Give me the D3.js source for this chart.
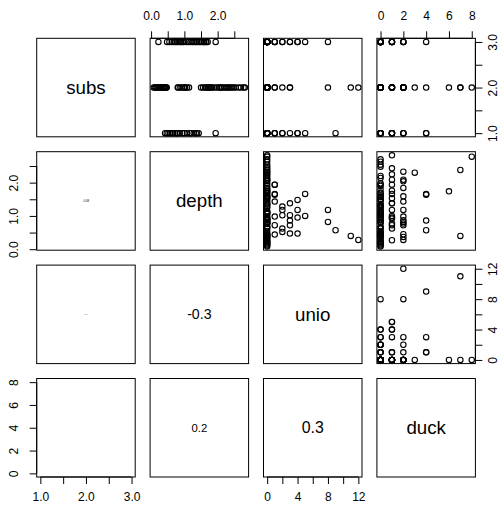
<!DOCTYPE html>
<html>
<head>
<meta charset="utf-8">
<script src="https://cdn.jsdelivr.net/npm/d3@7"></script>
<style>
  body { margin: 0; background: #fff; }
  text { font-family: "Liberation Sans", Arial, sans-serif; }
</style>
</head>
<body>
<svg width="500" height="507"></svg>
<script>
// variables of the pairs plot (one entry per observation)
var names = ["subs", "depth", "unio", "duck"];

var subs = [
  2, 2, 2, 2, 2, 1, 3, 2, 1, 2,
  3, 2, 2, 2, 3, 1, 1, 3, 1, 2,
  3, 1, 2, 3, 1, 3, 2, 3, 2, 3,
  1, 3, 1, 3, 1,
  2, 2, 2, 2, 3, 2, 3, 1, 2, 1,
  2, 2, 2, 2, 3, 2, 3, 1, 2, 2,
  2, 2, 2, 2, 2, 2, 2, 2, 2, 2,
  2, 2, 2, 2,
  2, 2, 2, 2, 2, 2, 2, 2, 2, 2, 2, 2,
  3, 3, 3, 3, 3, 3, 3, 3, 3, 3, 3, 3, 3,
  1, 1, 1, 1, 1, 1, 1
];
var depth = [
  2.78, 2.38, 0.40, 1.74, 2.30, 0.57, 1.64, 1.66, 0.86, 0.28,
  1.18, 0.82, 2.82, 2.63, 1.94, 1.94, 1.43, 0.98, 0.72, 0.44,
  1.28, 1.18, 1.02, 0.62, 0.52, 1.38, 1.02, 0.72, 0.47, 1.48,
  1.18, 0.95, 0.47, 1.66, 1.00,
  2.43, 2.25, 2.09, 1.76, 1.53, 0.92, 0.77, 0.62, 0.27, 1.38,
  2.33, 2.09, 2.04, 1.84, 1.59, 0.98, 0.87, 0.77, 0.45, 0.37,
  0.08, 0.11, 0.14, 0.17, 0.20, 0.23, 0.31, 0.34, 0.38, 0.42,
  0.80, 0.88, 1.08, 1.14,
  1.50, 1.56, 1.62, 1.70, 1.80, 1.90, 1.98, 2.14, 2.20, 2.48, 2.54, 2.70,
  0.22, 0.48, 0.55, 0.68, 0.82, 0.90, 1.06, 1.12, 1.24, 1.34, 1.44, 1.58, 1.70,
  0.42, 0.66, 0.80, 0.94, 1.08, 1.28, 1.34
];
var unio = [
  0, 0, 11, 0, 0, 9, 1, 1, 3, 12,
  8, 8, 0, 0, 1, 1, 1, 1, 1, 1,
  2, 2, 2, 2, 2, 3, 3, 3, 3, 4,
  4, 4, 4, 5, 5,
  0, 0, 0, 0, 0, 0, 0, 0, 0, 0,
  0, 0, 0, 0, 0, 0, 0, 0, 0, 0,
  0, 0, 0, 0, 0, 0, 0, 0, 0, 0,
  0, 0, 0, 0,
  0, 0, 0, 0, 0, 0, 0, 0, 0, 0, 0, 0,
  0, 0, 0, 0, 0, 0, 0, 0, 0, 0, 0, 0, 0,
  0, 0, 0, 0, 0, 0, 0
];
var duck = [
  8, 7, 7, 6, 3, 4, 4, 4, 4, 2,
  0, 2, 1, 0, 0, 1, 2, 0, 1, 0,
  0, 2, 0, 0, 0, 1, 0, 2, 0, 0,
  1, 1, 0, 1, 1,
  1, 1, 1, 1, 1, 1, 1, 1, 1, 1,
  2, 2, 2, 2, 2, 2, 2, 2, 2, 2,
  0, 0, 0, 0, 0, 0, 0, 0, 0, 0,
  0, 0, 0, 0,
  0, 0, 0, 0, 0, 0, 0, 0, 0, 0, 0, 0,
  0, 0, 0, 0, 0, 0, 0, 0, 0, 0, 0, 0, 0,
  0, 0, 0, 0, 0, 0, 0
];

// correlations shown in the lower panels (row, col, value, label)
var corRows   = [1, 2, 3, 2, 3, 3];
var corCols   = [0, 0, 0, 1, 1, 2];
var corValues = [-0.08, -0.04, 0.01, -0.31, 0.20, 0.28];
var corLabels = ["-0.08", "-0.04", "0.01", "-0.3", "0.2", "0.3"];

// ticks and their labels
var subsTicks  = [1, 1.5, 2, 2.5, 3];
var subsLabels = ["1.0", "", "2.0", "", "3.0"];
var depthTicks  = [0, 0.5, 1, 1.5, 2, 2.5];
var depthLabels = ["0.0", "", "1.0", "", "2.0", ""];
var unioTicks  = [0, 2, 4, 6, 8, 10, 12];
var unioLabels = ["0", "", "4", "", "8", "", "12"];
var duckTicks  = [0, 2, 4, 6, 8];
var duckLabels = ["0", "2", "4", "6", "8"];

var vars = [subs, depth, unio, duck];
var ticks = [subsTicks, depthTicks, unioTicks, duckTicks];
var tickLabels = [subsLabels, depthLabels, unioLabels, duckLabels];

var svg = d3.select("svg");
var left = 36.7, top0 = 38.3, step = 113.4, size = 98.5;

// R style range: data extent stretched by 4%
function extRange(v) {
  var e = d3.extent(v), pad = (e[1] - e[0]) * 0.04;
  return [e[0] - pad, e[1] + pad];
}
var xs = vars.map(function(v, j) {
  return d3.scaleLinear().domain(extRange(v)).range([left + j * step, left + j * step + size]);
});
var ys = vars.map(function(v, i) {
  return d3.scaleLinear().domain(extRange(v)).range([top0 + i * step + size, top0 + i * step]);
});

for (var i = 0; i < 4; i++) {
  for (var j = 0; j < 4; j++) {
    var x0 = left + j * step, y0 = top0 + i * step;
    var g = svg.append("g");
    if (i == j) {
      g.append("text")
        .attr("x", x0 + size / 2).attr("y", y0 + size / 2)
        .attr("dy", "0.35em")
        .attr("text-anchor", "middle")
        .attr("font-size", 18.7)
        .text(names[i]);
    } else if (j > i) {
      // upper panel: x = variable j, y = variable i
      var xv = vars[j], yv = vars[i], sx = xs[j], sy = ys[i];
      g.selectAll("circle")
        .data(d3.range(xv.length))
        .enter().append("circle")
        .attr("cx", function(k) { return sx(xv[k]); })
        .attr("cy", function(k) { return sy(yv[k]); })
        .attr("r", 2.7)
        .attr("fill", "none")
        .attr("stroke", "#000")
        .attr("stroke-width", 1.1);
    }
    g.append("rect")
      .attr("x", x0).attr("y", y0)
      .attr("width", size).attr("height", size)
      .attr("fill", "none").attr("stroke", "#000").attr("stroke-width", 1);
  }
}

// lower panels: correlation text, width = 0.8 * |r| of the panel
corValues.forEach(function(r, k) {
  var x0 = left + corCols[k] * step, y0 = top0 + corRows[k] * step;
  var t = svg.append("text")
    .attr("x", x0 + size / 2).attr("y", y0 + size / 2)
    .attr("text-anchor", "middle")
    .attr("font-size", 100)
    .text(corLabels[k]);
  var w = t.node().getComputedTextLength();
  var fs = 100 * (0.8 * Math.abs(r) * size) / w;
  t.attr("font-size", fs).attr("dy", (fs * 0.35) + "px");
});

// axes, R pairs layout
function drawAxis(k, side, pos) {
  var axis, scale, g;
  if (side == "top" || side == "bottom") scale = xs[k]; else scale = ys[k];
  if (side == "top") axis = d3.axisTop(scale);
  if (side == "bottom") axis = d3.axisBottom(scale);
  if (side == "left") axis = d3.axisLeft(scale);
  if (side == "right") axis = d3.axisRight(scale);
  axis.tickValues(ticks[k])
    .tickSize(7)
    .tickFormat(function(d, n) { return tickLabels[k][n]; });
  if (side == "top") axis.tickPadding(11.3);
  if (side == "bottom") axis.tickPadding(8.3);

  g = svg.append("g");
  if (side == "top" || side == "bottom") g.attr("transform", "translate(0," + pos + ")");
  else g.attr("transform", "translate(" + pos + ",0)");
  g.call(axis);
  g.select(".domain").remove();
  var t = ticks[k];
  if (side == "top" || side == "bottom") {
    g.append("line").attr("x1", scale(t[0])).attr("x2", scale(t[t.length - 1]))
      .attr("stroke", "#000");
  } else {
    g.append("line").attr("y1", scale(t[0])).attr("y2", scale(t[t.length - 1]))
      .attr("stroke", "#000");
  }
  g.selectAll("text")
    .attr("fill", "#000")
    .attr("font-size", 12)
    .attr("font-family", "Liberation Sans, Arial, sans-serif");
  if (side == "left" || side == "right") {
    var off = side == "left" ? -18.4 : 21.5;
    g.selectAll("text")
      .attr("x", null).attr("dy", null)
      .attr("text-anchor", "middle")
      .attr("transform", "translate(" + off + ",0) rotate(-90)");
  }
}

var edge = top0 + 3 * step + size;
var right = left + 3 * step + size;
drawAxis(1, "top", top0);
drawAxis(3, "top", top0);
drawAxis(0, "bottom", edge);
drawAxis(2, "bottom", edge);
drawAxis(1, "left", left);
drawAxis(3, "left", left);
drawAxis(0, "right", right);
drawAxis(2, "right", right);
</script>
</body>
</html>
